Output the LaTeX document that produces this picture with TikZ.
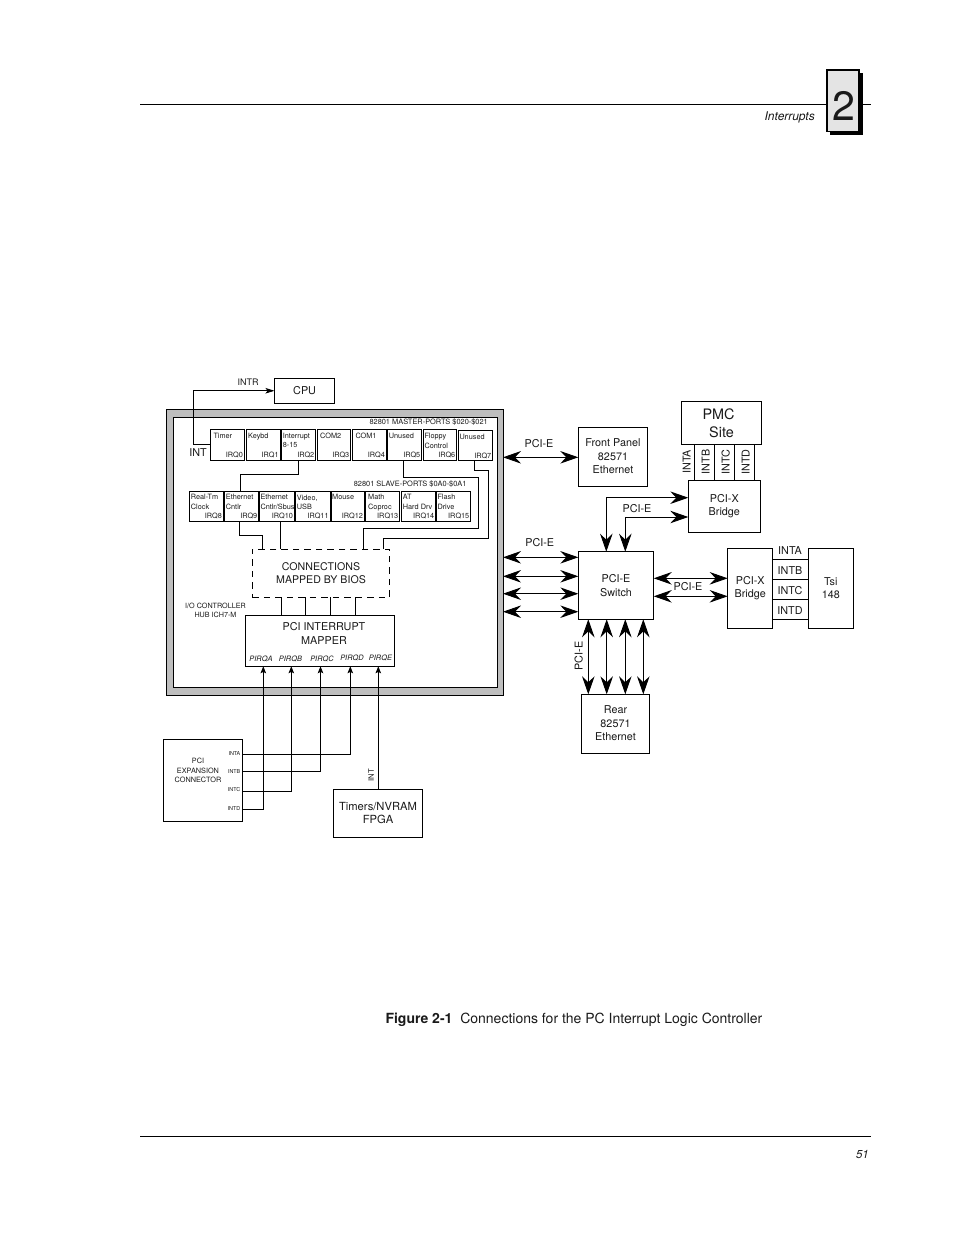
\documentclass[tikz,border=0pt]{standalone}
\usepackage{fontspec}
\setmainfont{TeX Gyre Heros}
\usetikzlibrary{arrows.meta}
\definecolor{ink}{HTML}{1A1A1A}
\definecolor{panel}{HTML}{BEBEBE}
\definecolor{tab}{HTML}{E4E4E4}
\newcommand\fs[2]{\fontsize{#1}{#2}\selectfont}
\tikzset{
  box/.style={draw=black,line width=.9pt,inner sep=0pt,outer sep=0pt,align=center,text=ink,font=\fs{10.8}{13.5}},
  wire/.style={draw=black,line width=.9pt},
  bi/.style={line width=.9pt,{Stealth[length=18pt,width=12.5pt,inset=6pt]}-{Stealth[length=18pt,width=12.5pt,inset=6pt]}},
  smallarrow/.style={line width=.9pt,-{Stealth[length=7pt,width=5.5pt,inset=1.5pt]}},
  cpuarrow/.style={line width=.9pt,-{Stealth[length=9pt,width=5.5pt,inset=2pt]}},
  lab/.style={inner sep=0pt,text=ink,font=\fs{10.8}{13.5},align=center},
  tiny/.style={inner sep=0pt,text=ink,font=\fs{7.3}{9.2},align=left},
  pirq/.style={inner sep=0pt,text=ink,font=\fs{7.4}{9}\itshape},
}
\newcommand\mybox[7][]{%
  \pgfmathsetmacro\bxw{#5-#3}\pgfmathsetmacro\bxh{#6-#4}%
  \pgfmathsetmacro\bxx{(#5+#3)/2}\pgfmathsetmacro\bxy{(#6+#4)/2}%
  \node[box,minimum width=\bxw pt,minimum height=\bxh pt,#1] (#2) at (\bxx,\bxy) {#7};%
}
% name x1 y1 x2 y2 xoff text irq topoffset
\newcommand\irq[9]{%
  \mybox{#1}{#2}{#3}{#4}{#5}{}%
  \pgfmathsetmacro\lx{#2+#6}\pgfmathsetmacro\ly{#3+#9}%
  \node[tiny,anchor=north west] (#1t) at (\lx,\ly) {#7};%
  \pgfmathsetmacro\rx{#4-1.2}\pgfmathsetmacro\ry{#5-5}%
  \node[tiny,anchor=east] (#1q) at (\rx,\ry) {#8};%
}
\begin{document}
\begin{tikzpicture}[x=1pt,y=-1pt]
\useasboundingbox (0,0) rectangle (954,1235);
\fill[white] (0,0) rectangle (954,1235);
% page furniture
\coordinate (hl) at (140,104.3); \coordinate (hr) at (870.5,104.3);
\draw[line width=.8pt] (hl) -- (hr);
\coordinate (fl) at (140,1136); \coordinate (fr) at (870.5,1136);
\draw[line width=.8pt] (fl) -- (fr);
\fill[black] (829.5,73) rectangle (862.5,135);
\node[draw=black,fill=tab,line width=1.6pt,minimum width=32pt,minimum height=61.5pt,inner sep=0pt] (chap) at (843,100.7) {};
\node[inner sep=0pt,text=ink,font=\fs{41}{41}] (chapn) at (843.5,105.5) {2};
\node[inner sep=0pt,anchor=east,text=ink,font=\fs{12}{14}\itshape] (sec) at (815,117.3) {Interrupts};
\node[inner sep=0pt,anchor=east,text=ink,font=\fs{11.5}{14}\itshape] (pg) at (869,1154) {51};
\node[inner sep=0pt,anchor=base west,text=ink,font=\fs{14}{16}] (cap) at (385.3,1023.8) {\textbf{Figure 2-1}\ \ Connections for the PC Interrupt Logic Controller};

% I/O hub
\mybox[fill=panel]{hub}{166.7}{409.7}{503}{695.7}{}
\mybox[fill=white]{hubin}{173.3}{417.7}{497.7}{687.3}{}
\mybox{cpu}{274.5}{378}{334.7}{403.5}{CPU}
\node[inner sep=0pt,anchor=east,text=ink,font=\fs{7.4}{9}] (mt) at (488,422.3) {82801 MASTER-PORTS \$020-\$021};
\node[inner sep=0pt,anchor=east,text=ink,font=\fs{7.4}{9}] (st) at (466.7,484.2) {82801 SLAVE-PORTS \$0A0-\$0A1};
\node[lab,anchor=east] (intl) at (207,452.3) {INT};
\node[lab,font=\fs{9}{10}] (intr) at (248,382.7) {INTR};

\irq{m0}{210.3}{429.3}{244.3}{460.3}{3}{Timer}{IRQ0}{4}
\irq{m1}{246.3}{429.3}{280}{460.3}{1.7}{Keybd}{IRQ1}{4}
\irq{m2}{281.7}{429.3}{315.7}{460.3}{1}{Interrupt\\8-15}{IRQ2}{3.3}
\irq{m3}{317}{429.3}{350.7}{460.3}{3}{COM2}{IRQ3}{4}
\irq{m4}{352.3}{429.3}{386.3}{460.3}{3}{COM1}{IRQ4}{4}
\irq{m5}{387.7}{429.3}{421.7}{460.3}{1}{Unused}{IRQ5}{4}
\irq{m6}{423}{429.3}{456.7}{460.3}{1.3}{Floppy\\Control}{IRQ6}{4}
\irq{m7}{458.3}{430}{492.7}{460.7}{1}{Unused}{IRQ7}{3.5}

\irq{s8}{189.7}{491.3}{223.3}{521.3}{1}{Real-Tm\\Clock}{IRQ8}{3}
\irq{s9}{224.3}{491.3}{258.7}{521.3}{1.4}{Ethernet\\Cntlr}{IRQ9}{3}
\irq{s10}{259.7}{491.3}{294.3}{521.3}{.6}{Ethernet\\Cntlr/Sbus}{IRQ10}{3}
\irq{s11}{295.7}{491.3}{330}{521.3}{1}{Video,\\USB}{IRQ11}{3.5}
\irq{s12}{331}{491.3}{364.3}{521.3}{1}{Mouse}{IRQ12}{3}
\irq{s13}{365.7}{491.3}{399.7}{521.3}{2.3}{Math\\Coproc}{IRQ13}{3}
\irq{s14}{401.3}{491.3}{435.7}{521.3}{1.4}{AT\\Hard Drv}{IRQ14}{3}
\irq{s15}{436.7}{491.3}{470.7}{521.3}{.6}{Flash\\Drive}{IRQ15}{3}

\mybox[dashed,dash pattern=on 6.5pt off 5pt,font=\fs{10.6}{12.4}]{bios}{252.3}{549}{389.7}{597.3}{CONNECTIONS\\MAPPED BY BIOS}
\mybox{map}{245.7}{615.3}{394.3}{666.3}{}
\node[lab,font=\fs{10.8}{14.2}] (mapt) at (324,633.3) {PCI INTERRUPT\\MAPPER};
\node[inner sep=0pt,text=ink,font=\fs{7.2}{9.2},align=center] (ioh) at (215.5,610) {I/O CONTROLLER\\HUB ICH7-M};
\node[pirq] (pa) at (261,658.5) {PIRQA};
\node[pirq] (pb) at (290.5,658.5) {PIRQB};
\node[pirq] (pc) at (322,658.5) {PIRQC};
\node[pirq] (pd) at (352,657.5) {PIRQD};
\node[pirq] (pe) at (380.5,657.5) {PIRQE};

% wires inside the hub
\draw[cpuarrow] (m0.west) -- (193.3,442 |- m0.west) |- (cpu.west);
\draw[wire] (298.3,0 |- m2.south) |- (240.3,474.7) -- (240.3,0 |- s9.north);
\draw[wire] (403.7,0 |- m5.south) |- (478.3,477.3) |- (363.3,528.7) -- (363.3,0 |- bios.north);
\draw[wire] (474.7,0 |- m7.south) |- (488.3,470.3) |- (383.3,538.3) -- (383.3,0 |- bios.north);
\draw[wire] (239.7,0 |- s9.south) |- (262.3,535) -- (262.3,0 |- bios.north);
\draw[wire] (280.3,0 |- s10.south) -- (280.3,0 |- bios.north);
\foreach \x in {281.3,305.7,330.3,355.3}{\draw[wire] (\x,0 |- bios.south) -- (\x,0 |- map.north);}

% PCI expansion and FPGA
\mybox{exp}{163.7}{739.7}{242.7}{821.3}{}
\node[inner sep=0pt,text=ink,font=\fs{7.3}{9.2},align=center] (expt) at (198,770.5) {PCI\\EXPANSION\\CONNECTOR};
\node[inner sep=0pt,anchor=east,text=ink,font=\fs{5.4}{6}] (ea) at (240.5,753.3) {INTA};
\node[inner sep=0pt,anchor=east,text=ink,font=\fs{5.4}{6}] (eb) at (240.5,771.5) {INTB};
\node[inner sep=0pt,anchor=east,text=ink,font=\fs{5.4}{6}] (ec) at (240.5,789.5) {INTC};
\node[inner sep=0pt,anchor=east,text=ink,font=\fs{5.4}{6}] (ed) at (240.5,809) {INTD};
\draw[smallarrow] (exp.east |- 0,754) -| (350.3,0 |- map.south);
\draw[smallarrow] (exp.east |- 0,771.3) -| (320.5,0 |- map.south);
\draw[smallarrow] (exp.east |- 0,791.3) -| (291.3,0 |- map.south);
\draw[smallarrow] (exp.east |- 0,809.3) -| (263.3,0 |- map.south);
\mybox[font=\fs{11.2}{13.5}]{fpga}{333.7}{789.3}{422.3}{837.3}{\raisebox{.7pt}{Timers/NVRAM}\\\raisebox{.7pt}{FPGA}}
\draw[smallarrow] (378.3,0 |- fpga.north) -- (378.3,0 |- map.south);
\node[inner sep=0pt,text=ink,font=\fs{7.6}{9},rotate=90] (fi) at (371,775) {INT};

% Right hand side
\mybox{front}{578.3}{427.3}{647.7}{486.3}{\raisebox{.7pt}{Front Panel}\\\raisebox{.7pt}{82571}\\\raisebox{.7pt}{Ethernet}}
\mybox[font=\fs{14.4}{18}]{pmc}{681.3}{401.7}{761.7}{444.3}{PMC\hspace*{6pt}\\Site}
\mybox{pxt}{688.3}{480.3}{760.3}{532.3}{PCI-X\\Bridge}
\mybox{sw}{578.3}{551.7}{653.7}{619.3}{PCI-E\\Switch}
\mybox{pxr}{727.7}{548.3}{772.7}{628.3}{PCI-X\\Bridge}
\mybox{tsi}{808.3}{548.3}{853.3}{628.3}{Tsi\\148}
\mybox{rear}{581.3}{694.3}{649.7}{753.3}{\raisebox{.7pt}{Rear}\\\raisebox{.7pt}{82571}\\\raisebox{.7pt}{Ethernet}}

\foreach \x in {694.7,714.7,734.7,754.7}{\draw[wire] (\x,0 |- pmc.south) -- (\x,0 |- pxt.north);}
\node[lab,rotate=90] (pa1) at (686.7,462) {INTA};
\node[lab,rotate=90] (pa2) at (705.7,462) {INTB};
\node[lab,rotate=90] (pa3) at (725.7,462) {INTC};
\node[lab,rotate=90] (pa4) at (745.7,462) {INTD};
\foreach \y in {559.3,579.3,599.3,619.3}{\draw[wire] (pxr.east |- 0,\y) -- (tsi.west |- 0,\y);}
\node[lab] (ta) at (790,551) {INTA};
\node[lab] (tb) at (790,570.3) {INTB};
\node[lab] (tc) at (790,590.3) {INTC};
\node[lab] (td) at (790,611) {INTD};

\draw[bi] (hub.east |- 0,457.3) -- (front.west |- 0,457.3);
\foreach \y in {557.3,576.3,593.7,611.7}{\draw[bi] (hub.east |- 0,\y) -- (sw.west |- 0,\y);}
\draw[bi] (606.3,0 |- sw.north) |- (pxt.west |- 0,497.7);
\draw[bi] (625.3,0 |- sw.north) |- (pxt.west |- 0,517);
\draw[bi] (sw.east |- 0,578.3) -- (pxr.west |- 0,578.3);
\draw[bi] (sw.east |- 0,596.3) -- (pxr.west |- 0,596.3);
\foreach \x in {588.3,606.7,625.3,643.3}{\draw[bi] (\x,0 |- sw.south) -- (\x,0 |- rear.north);}

\node[lab] (l1) at (539,443.3) {PCI-E};
\node[lab] (l2) at (539.7,543) {PCI-E};
\node[lab] (l3) at (637,508.3) {PCI-E};
\node[lab] (l4) at (688,586.3) {PCI-E};
\node[lab,rotate=90] (l5) at (578.7,656) {PCI-E};
\end{tikzpicture}
\end{document}
